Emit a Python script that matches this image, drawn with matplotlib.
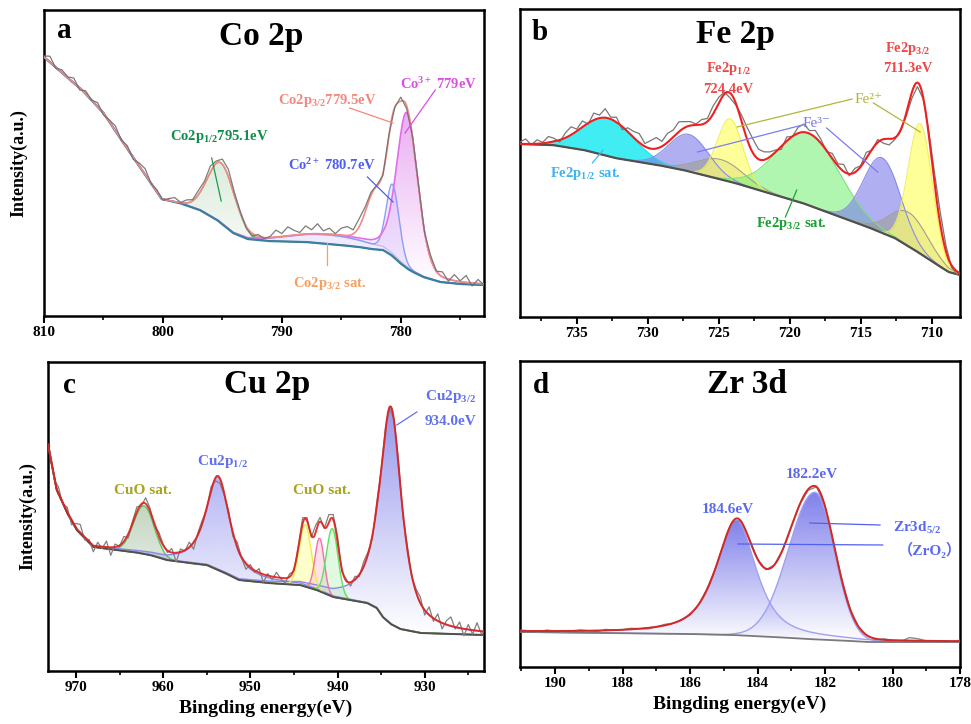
import numpy as np
import matplotlib
matplotlib.use('Agg')
import matplotlib.pyplot as plt
import matplotlib.colors as mcolors
from matplotlib.ticker import MultipleLocator, FormatStrFormatter

plt.rcParams['font.family'] = ['Liberation Serif', 'DejaVu Serif', 'Noto Sans CJK SC']
plt.rcParams['font.weight'] = 'bold'
plt.rcParams['axes.labelweight'] = 'bold'
plt.rcParams['mathtext.fontset'] = 'custom'
plt.rcParams['mathtext.rm'] = 'Liberation Serif:bold'
plt.rcParams['mathtext.it'] = 'Liberation Serif:bold'
plt.rcParams['mathtext.bf'] = 'Liberation Serif:bold'

# ---------------- data (energies in eV, intensities in a.u.) ----------------
# a: Co 2p
a_bg_e = [810.0, 808.0, 806.8, 805.0, 803.5, 802.0, 800.1, 798.6, 796.9, 795.45, 794.1,
          792.9, 791.2, 788.0, 785.1, 783.5, 782.5, 781.5, 780.8, 780.06, 779.4, 778.97,
          778.1, 776.7, 775.0, 773.0]
a_bg_i = [259, 238, 226, 203, 176, 150, 117, 113, 106, 96, 83,
          77, 75, 74, 71, 69, 67, 66, 61, 53, 47, 44,
          39, 34, 32, 31]
# Co2p1/2, Co2p3/2 sat., shoulder, Co2+, Co3+
a_center = [795.1, 786.0, 782.1, 780.7, 779.5]
a_height = [60, 9, 50, 69, 154]
a_hwl = [1.35, 4.0, 0.95, 0.6, 1.0]
a_hwr = [1.35, 4.0, 0.95, 0.65, 1.1]
a_eta = [0, 0, 0, 0, 0.25]
a_noise = [1, 6, -1, 3, 1, 5, -2, 3, 0, 4, -2, 2, 5, 0, 3, -2, 3, 6, 0, 2, -1,
           2, 4, 0, 3, 1, 4,
           3, 6, 2, 5, 7, 3, 1, -2,
           -3, 2, -1, 1,
           7, 3, 9, 5, 2, 8, 4, 10, 3, 6, 1, 7, 9, 4, 8, 5,
           3, 1, -2, 2, 0, 4, -3, 1, 2, -1, 3, 0,
           5, -2, 6, 1, 7, -3, 4, -1]

# b: Fe 2p
b_bg_e = [739.0, 736.7, 734.5, 732.3, 729.3, 727.5, 725.0, 723.85, 721.5, 719.1, 716.8,
          714.5, 712.6, 711.2, 709.8, 708.8, 708.0]
b_bg_i = [173, 172, 167, 159, 152, 147, 138, 134, 124, 114, 102,
          90, 79, 67, 54, 45, 42]
# 2p1/2 sat., Fe3+, surface, Fe2+, 2p3/2 sat., Fe3+, surface, Fe2+
b_center = [732.8, 727.1, 724.9, 724.2, 718.7, 713.5, 711.6, 710.8]
b_height = [38, 37, 20, 63, 72, 75, 34, 130]
b_hw = [2.1, 1.65, 1.9, 1.06, 2.6, 1.53, 1.6, 1.0]
b_noise = [2, 5, -1, 4, 1, 6, 3, -2, 5, 8, 2,
           6, -1, 7, 3, 9, 2, 5, -3, 4,
           6, 9, 3, 8, 11, 5, 9, 7, 10, 6,
           4, 1, 5, 3, 8, 6, 2, -5,
           -2, 6, 12, 14, 10, 8, 5,
           2, -3, 4, 0, 6,
           8, 3, 7, 4, -1,
           5, 2, 7, -2, 4, 1, 6, -1, 3,
           -4, -6, -2, 1,
           -3, -6, -4, -2,
           4, 10, 12, 6,
           -2, -3]

# c: Cu 2p
c_bg_e = [973.2, 972.2, 971.0, 969.9, 968.0, 965.3, 963.4, 961.5, 959.6, 957.0, 955.0,
          952.9, 951.3, 948.0, 944.3, 942.4, 940.5, 938.6, 936.6, 935.5, 934.8, 933.9,
          932.8, 930.5, 927.1, 923.2]
c_bg_i = [226, 181, 158, 141, 124, 121, 119, 116, 111, 108, 106,
          98, 91, 88, 86, 81, 74, 71, 68, 63, 54, 47,
          42, 38, 37, 36]
# CuO sat., Cu2p1/2, sat. triplet (3), Cu2p3/2
c_center = [962.2, 953.7, 943.7, 942.05, 940.6, 933.9]
c_height = [48, 93, 62, 53, 68, 217]
c_hw = [1.4, 1.6, 0.8, 0.62, 0.78, 1.5]
c_eta = [0, 0.8, 0, 0, 0, 0.8]
c_noise = [3, -4, 6, -2, 5, -5, 4, 8, -3, 2, -6,
           4, -2, 6, -8, 3, -1, 5, -4,
           2, 5, -2, 6, 3, -3, 4, 1,
           -2, 4, -9, 3, -1, 5, -7, 2,
           3, -2, 4, -3, -5, -2, 3, -4, 5, -1,
           -6, 3, -2, 4, -8, 2, -3, 5, -1, -5, 3, -2,
           2, 6, 3, -2, 7, 4, -1, 8, 5, 6, -3, 2,
           -4, 3, -2, 5,
           2, -3, 4, 1, 3, -2, 2, 5, -3, 4, -2, 3,
           6, -5, 8, -3, 7, -6, 4, 9, -2, 6, -7, 5, -4, 8, -3, 2]

# d: Zr 3d
d_bg_e = [191.04, 188.67, 186.0, 184.73, 183.5, 182.54, 181.5, 180.76, 180.0, 178.0]
d_bg_i = [35, 34, 33, 32, 30, 28, 26.5, 25, 25, 25]
d_center = [184.62, 182.3]
d_height = [115, 147]
d_hwl = [0.72, 0.92]
d_hwr = [0.68, 0.68]
d_eta = [0.7, 0.0]
d_noise = [1, 0, -1, 1, 0, -1, 0, 1, 0, -1, 1, 0,
           0, 1, 0, -1, 0, 1, 0, 0, -1, 0, 1, 0, -1, 0, 0, 1, 0, -1, 0, 0, 1, 0, -1, 0, 0, 0, 1, 0, 0,
           0, -1, 1, 0, -1, 3, 2, 0, -1, 0, -1, 1]


def pv(E, c, h, wl, wr, eta):
    w = np.where(E >= c, wl, wr)
    u = ((E - c) / w) ** 2
    return h * ((1 - eta) * np.exp(-np.log(2) * u) + eta / (1 + u))


def model(E, bg_e, bg_i, cen, hgt, hwl, hwr, eta):
    bg = np.interp(E, np.array(bg_e)[::-1], np.array(bg_i)[::-1])
    comps = [pv(E, c, h, l, r, t) for c, h, l, r, t in zip(cen, hgt, hwl, hwr, eta)]
    return bg, comps


def grad_fill(ax, x, lo, hi, color, a_top, z):
    poly = ax.fill_between(x, lo, hi, facecolor='none', edgecolor='none', zorder=z)
    rgba = np.zeros((256, 1, 4))
    rgba[..., :3] = mcolors.to_rgb(color)
    rgba[:, 0, 3] = np.linspace(a_top, 0.0, 256)
    im = ax.imshow(rgba, aspect='auto', origin='upper', interpolation='bilinear',
                   extent=[x.min(), x.max(), lo.min(), hi.max()], zorder=z)
    im.set_clip_path(poly.get_paths()[0], transform=ax.transData)


def style(ax, xlim, ytop, major, minor):
    ax.set_xlim(*xlim)
    ax.set_ylim(0, ytop)
    ax.xaxis.set_major_locator(MultipleLocator(major))
    ax.xaxis.set_minor_locator(MultipleLocator(minor))
    ax.xaxis.set_major_formatter(FormatStrFormatter('%d'))
    ax.set_yticks([])
    ax.tick_params(axis='x', which='major', direction='out', length=5, width=1.5, labelsize=11, pad=2)
    ax.tick_params(axis='x', which='minor', direction='out', length=3, width=1.2)
    for s in ax.spines.values():
        s.set_linewidth(1.8)


def pointer(ax, p0, p1, color):
    ax.plot([p0[0], p1[0]], [p0[1], p1[1]], color=color, lw=0.9, zorder=8)


fig = plt.figure(figsize=(9.71, 7.24), dpi=100)
W, H = 971, 724


def box(l, t, r, b):
    return [l / W, 1 - b / H, (r - l) / W, (b - t) / H]


ax_a = fig.add_axes(box(44, 10, 484, 316))
ax_b = fig.add_axes(box(520, 9, 960, 317))
ax_c = fig.add_axes(box(48, 362, 484, 671))
ax_d = fig.add_axes(box(520, 361, 960, 667))

# ---------------- a: Co 2p ----------------
ax = ax_a
E = np.linspace(810, 773, 1500)
bg, comps = model(E, a_bg_e, a_bg_i, a_center, a_height, a_hwl, a_hwr, a_eta)
green, sat, shoulder, blue, pink = comps
base2 = bg + sat
grad_fill(ax, E, bg, bg + green, '#8fbf8f', 0.55, 1)
ax.fill_between(E, bg, base2, color='#e6dcff', alpha=0.6, lw=0, zorder=1)
ax.fill_between(E, base2, base2 + blue, color='#e2ddff', alpha=0.5, lw=0, zorder=1)
grad_fill(ax, E, base2, base2 + pink, '#d865e8', 0.7, 1.1)
ax.plot(E, bg + green, color='#6aa86a', lw=1, zorder=2)
ax.plot(E, base2, color='#c9b8f2', lw=1, zorder=2)
ax.plot(E, base2 + blue, color='#8c9cf8', lw=1, zorder=2)
ax.plot(E, base2 + pink, color='#e070e8', lw=1.2, zorder=2)
ax.plot(E, bg, color='#3a7fa0', lw=1.6, zorder=3)
env = bg + sum(comps)
ax.plot(E, env, color='#f28b82', lw=1.2, zorder=4)
Er = np.linspace(810, 773, len(a_noise))
bgr, cr = model(Er, a_bg_e, a_bg_i, a_center, a_height, a_hwl, a_hwr, a_eta)
ax.plot(Er, bgr + sum(cr) + np.array(a_noise), color='#6e6e6e', lw=0.9, alpha=0.9, zorder=5)
style(ax, (810, 773), 306, 10, 5)
ax.set_ylabel('Intensity(a.u.)', fontsize=13, labelpad=12)
ax.text(808.9, 278, 'a', fontsize=21, va='baseline')
ax.text(791.7, 271, 'Co 2p', fontsize=24, ha='center', va='baseline')
ax.text(799.4, 176, r'Co2p$_{1/2}$795.1eV', color='#0e8c4a', fontsize=10.5, va='baseline')
ax.text(790.3, 212, r'Co2p$_{3/2}$779.5eV', color='#f4877f', fontsize=10.5, va='baseline')
ax.text(780.06, 227, r'Co$^{3+}$ 779eV', color='#d94fe0', fontsize=10.5, va='baseline')
ax.text(789.5, 146, r'Co$^{2+}$ 780.7eV', color='#4f5ef0', fontsize=10.5, va='baseline')
ax.text(789.1, 29, r'Co2p$_{3/2}$ sat.', color='#f5a060', fontsize=10.5, va='baseline')
pointer(ax, (795.9, 158), (795.1, 115), '#1a9a50')
pointer(ax, (784.3, 208), (780.65, 193), '#f4877f')
pointer(ax, (777.1, 226), (779.64, 183), '#d94fe0')
pointer(ax, (782.8, 139), (780.65, 114), '#4f5ef0')
pointer(ax, (786.2, 73), (786.2, 51), '#f5a060')

# ---------------- b: Fe 2p ----------------
ax = ax_b
E = np.linspace(739, 708, 1500)
bg, comps = model(E, b_bg_e, b_bg_i, b_center, b_height, b_hw, b_hw, [0] * len(b_center))
b_fill = ['#00e8f0', '#7b7bea', '#9a9a8a', '#ffff70', '#7cf07c', '#7b7bea', '#9a9a8a', '#ffff70']
b_alpha = [0.75, 0.6, 0.5, 0.7, 0.6, 0.6, 0.5, 0.7]
b_line = ['#30d8e0', '#8a8ae8', '#a0a094', '#f0f060', '#80e080', '#8a8ae8', '#a0a094', '#f0f060']
for k, comp in enumerate(comps):
    ax.fill_between(E, bg, bg + comp, color=b_fill[k], alpha=b_alpha[k], lw=0, zorder=1 + 0.01 * k)
    ax.plot(E, bg + comp, color=b_line[k], lw=0.8, zorder=2)
ax.plot(E, bg, color='#505050', lw=1.6, zorder=3)
Er = np.linspace(739, 708.2, len(b_noise))
bgr, cr = model(Er, b_bg_e, b_bg_i, b_center, b_height, b_hw, b_hw, [0] * len(b_center))
ax.plot(Er, bgr + sum(cr) + np.array(b_noise), color='#777777', lw=0.9, zorder=4)
ax.plot(E, bg + sum(comps), color='#ee2020', lw=1.5, zorder=5)
style(ax, (739, 708), 308, 5, 2.5)
ax.text(738.2, 277, 'b', fontsize=21, va='baseline')
ax.text(723.85, 274, 'Fe 2p', fontsize=24, ha='center', va='baseline')
ax.text(724.3, 245, r'Fe2p$_{1/2}$', color='#f04848', fontsize=10.5, ha='center', va='baseline')
ax.text(724.3, 224, '724.4eV', color='#f04848', fontsize=10.5, ha='center', va='baseline')
ax.text(711.7, 265, r'Fe2p$_{3/2}$', color='#f04848', fontsize=10.5, ha='center', va='baseline')
ax.text(711.7, 245, '711.3eV', color='#f04848', fontsize=10.5, ha='center', va='baseline')
ax.text(715.4, 214, 'Fe²⁺', color='#b5b540', fontsize=11, fontweight='normal', va='baseline')
ax.text(719.1, 190, 'Fe³⁻', color='#7a7af0', fontsize=11, fontweight='normal', va='baseline')
ax.text(736.9, 140, r'Fe2p$_{1/2}$ sat.', color='#3cb4f0', fontsize=10.5, va='baseline')
ax.text(722.4, 90, r'Fe2p$_{3/2}$ sat.', color='#18a030', fontsize=10.5, va='baseline')
pointer(ax, (715.6, 218), (723.7, 190), '#b4b43c')
pointer(ax, (714.1, 214), (710.8, 185), '#b4b43c')
pointer(ax, (719.1, 192), (726.5, 165), '#7c7cf0')
pointer(ax, (717.4, 189), (713.8, 145), '#7c7cf0')
pointer(ax, (733.15, 167), (733.9, 154), '#40b8f0')
pointer(ax, (719.5, 127), (720.3, 100), '#20a040')

# ---------------- c: Cu 2p ----------------
ax = ax_c
E = np.linspace(973.2, 923.2, 2000)
bg, comps = model(E, c_bg_e, c_bg_i, c_center, c_height, c_hw, c_hw, c_eta)
sat1, p12, sy, sp, sg, p32 = comps
grad_fill(ax, E, bg, bg + sat1, '#6f9a68', 0.6, 1)
grad_fill(ax, E, bg, bg + p12, '#8080ee', 0.7, 1)
grad_fill(ax, E, bg, bg + p32, '#7474e8', 0.75, 1)
ax.fill_between(E, bg, bg + sy, color='#ffff80', alpha=0.4, lw=0, zorder=1.2)
ax.fill_between(E, bg, bg + sp, color='#ffa8c8', alpha=0.35, lw=0, zorder=1.2)
ax.fill_between(E, bg, bg + sg, color='#a8f0a8', alpha=0.35, lw=0, zorder=1.2)
ax.plot(E, bg + sat1, color='#60c060', lw=1, zorder=2)
ax.plot(E, bg + p12, color='#8a8ae8', lw=1, zorder=2)
ax.plot(E, bg + p32, color='#8a8ae8', lw=1, zorder=2)
ax.plot(E, bg + sy, color='#ecec4a', lw=1, zorder=2)
ax.plot(E, bg + sp, color='#f070a8', lw=1, zorder=2)
ax.plot(E, bg + sg, color='#60e060', lw=1, zorder=2)
ax.plot(E, bg, color='#505050', lw=1.4, zorder=3)
Er = np.linspace(973, 923, len(c_noise))
bgr, cr = model(Er, c_bg_e, c_bg_i, c_center, c_height, c_hw, c_hw, c_eta)
ax.plot(Er, bgr + sum(cr) + np.array(c_noise), color='#808080', lw=0.9, zorder=4)
ax.plot(E, bg + sum(comps), color='#e0201c', lw=1.4, alpha=0.9, zorder=5)
style(ax, (973.2, 923.2), 309, 10, 5)
ax.set_ylabel('Intensity(a.u.)', fontsize=13, labelpad=8)
ax.set_xlabel('Bingding energy(eV)', fontsize=14, labelpad=4)
ax.text(971.5, 278, 'c', fontsize=21, va='baseline')
ax.text(948.1, 278, 'Cu 2p', fontsize=24, ha='center', va='baseline')
ax.text(962.3, 177, 'CuO sat.', color='#a8a420', fontsize=11, ha='center', va='baseline')
ax.text(941.8, 177, 'CuO sat.', color='#a8a420', fontsize=11, ha='center', va='baseline')
ax.text(956.1, 206, r'Cu2p$_{1/2}$', color='#6070f0', fontsize=11, va='baseline')
ax.text(929.96, 271, r'Cu2p$_{3/2}$', color='#6070f0', fontsize=11, va='baseline')
ax.text(929.96, 246, '934.0eV', color='#6070f0', fontsize=11, va='baseline')
pointer(ax, (930.9, 259), (933.2, 246), '#6070f0')

# ---------------- d: Zr 3d ----------------
ax = ax_d
E = np.linspace(191.04, 178, 1500)
bg, comps = model(E, d_bg_e, d_bg_i, d_center, d_height, d_hwl, d_hwr, d_eta)
for comp in comps:
    grad_fill(ax, E, bg, bg + comp, '#6a6ae8', 0.85, 1)
    ax.plot(E, bg + comp, color='#a0a0f2', lw=1, zorder=2)
ax.plot(E, bg, color='#7a7a7a', lw=1.3, zorder=3)
Er = np.linspace(191, 178, len(d_noise))
bgr, cr = model(Er, d_bg_e, d_bg_i, d_center, d_height, d_hwl, d_hwr, d_eta)
ax.plot(Er, bgr + sum(cr) + np.array(d_noise), color='#8a8a8a', lw=1, zorder=4)
ax.plot(E, bg + sum(comps), color='#d42828', lw=1.4, zorder=5)
style(ax, (191.04, 178), 306, 2, 1)
ax.set_xlabel('Bingding energy(eV)', fontsize=14, labelpad=4)
ax.text(190.65, 274, 'd', fontsize=21, va='baseline')
ax.text(184.3, 274, 'Zr 3d', fontsize=24, ha='center', va='baseline')
ax.text(182.39, 189, '182.2eV', color='#5a6af0', fontsize=11, ha='center', va='baseline')
ax.text(184.88, 154, '184.6eV', color='#5a6af0', fontsize=11, ha='center', va='baseline')
ax.text(180.0, 135, r'Zr3d$_{5/2}$', color='#5a6af0', fontsize=11, va='baseline')
ax.text(179.84, 112, '（ZrO₂）', color='#5a6af0', fontsize=11, va='baseline')
pointer(ax, (182.45, 144), (180.37, 142), '#5060f0')
pointer(ax, (184.58, 123), (180.29, 122), '#5060f0')

fig.savefig('out.png', dpi=100)
